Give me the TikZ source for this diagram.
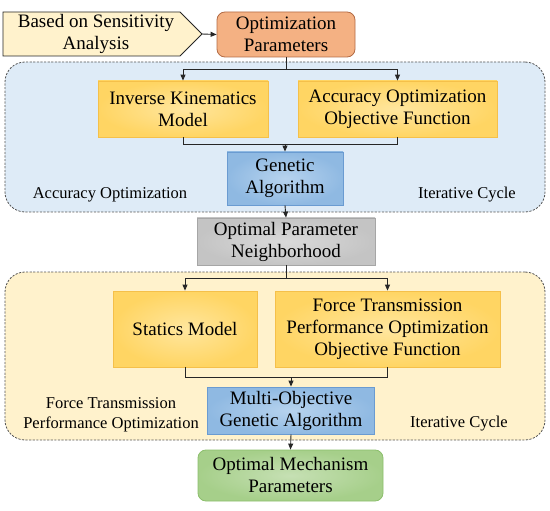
\documentclass[tikz,border=0pt]{standalone}
\usepackage{fontspec}
\setmainfont{Liberation Serif}
\usetikzlibrary{arrows.meta,calc}
\definecolor{linecol}{HTML}{262626}
\definecolor{regborder}{HTML}{555555}
\definecolor{bluereg}{HTML}{DEEBF7}
\definecolor{creamreg}{HTML}{FFF2CC}
\definecolor{yelin}{HTML}{FFE69E}
\definecolor{yelout}{HTML}{FFD563}
\definecolor{yelborder}{HTML}{F5C04A}
\definecolor{bluein}{HTML}{B7D3EE}
\definecolor{blueout}{HTML}{8FB9E2}
\definecolor{blueborder}{HTML}{6A9BD1}
\definecolor{grayin}{HTML}{DADADA}
\definecolor{grayout}{HTML}{C4C4C4}
\definecolor{grayborder}{HTML}{A6A6A6}
\definecolor{greenin}{HTML}{C6E0B4}
\definecolor{greenout}{HTML}{A6CF8A}
\definecolor{greenborder}{HTML}{8CBF6C}
\definecolor{orangefill}{HTML}{F4B183}
\definecolor{orangeborder}{HTML}{B36B45}
\begin{document}
\begin{tikzpicture}[x=1pt,y=-1pt,
  every node/.style={font=\fontsize{19}{22}\selectfont, align=center, inner sep=0pt, text=black},
  region/.style={draw=regborder, dash pattern=on 2.2pt off 1.4pt, line width=0.8pt, rounded corners=20pt},
  lbl/.style={font=\fontsize{16.5}{20}\selectfont},
  yelbox/.style={draw=yelborder, line width=0.8pt, inner color=yelin, outer color=yelout},
  bluebox/.style={draw=blueborder, line width=0.8pt, inner color=bluein, outer color=blueout},
  graybox/.style={draw=grayborder, line width=0.8pt, inner color=grayin, outer color=grayout},
  greenbox/.style={draw=greenborder, line width=0.8pt, inner color=greenin, outer color=greenout, rounded corners=8pt},
  orangebox/.style={draw=orangeborder, line width=0.8pt, fill=orangefill, rounded corners=8pt},
  conn/.style={draw=linecol, line width=0.9pt},
  arr/.style={conn, -{Triangle[length=6pt,width=5pt]}}
]
\useasboundingbox (0,0) rectangle (550,511);

% regions
\node[region, fill=bluereg, minimum width=540pt, minimum height=150pt] (topreg) at (275,137) {};
\node[region, fill=creamreg, minimum width=540pt, minimum height=168pt] (botreg) at (275,356) {};

% pentagon
\draw[draw=linecol, line width=0.8pt, fill=creamreg] (3,12) -- (180,12) -- (202,34) -- (180,56) -- (3,56) -- cycle;
\node (bsa) at (96,34) {Based on Sensitivity\\Analysis};
\coordinate (bsatip) at (202,34);

% boxes
\node[orangebox, minimum width=138pt, minimum height=45pt] (op) at (286,34.5) {Optimization\\Parameters};
\node[yelbox, minimum width=170pt, minimum height=56pt] (ik) at (183,109) {Inverse Kinematics\\Model};
\node[yelbox, minimum width=199pt, minimum height=56pt] (ao) at (397.5,109) {Accuracy Optimization\\Objective Function};
\node[bluebox, minimum width=116pt, minimum height=53pt] (ga) at (285,178.5) {Genetic\\Algorithm};
\node[lbl] (lacc) at (110,195) {Accuracy Optimization};
\node[lbl] (lit1) at (467,195) {Iterative Cycle};

\node[graybox, minimum width=178pt, minimum height=47pt] (onp) at (286,241.5) {Optimal Parameter\\Neighborhood};

\node[yelbox, minimum width=144pt, minimum height=76pt] (sm) at (185,329) {Statics Model};
\node[yelbox, minimum width=225pt, minimum height=76pt] (ft) at (387.5,329) {Force Transmission\\Performance Optimization\\Objective Function};
\node[bluebox, minimum width=167pt, minimum height=47pt] (moga) at (291,410.5) {Multi-Objective\\Genetic Algorithm};
\node[lbl] (lft) at (111,415) {Force Transmission\\Performance Optimization};
\node[lbl] (lit2) at (459,424) {Iterative Cycle};

\node[greenbox, minimum width=185pt, minimum height=51pt] (om) at (290.5,475.5) {Optimal Mechanism\\Parameters};

% connectors
\draw[arr] (bsatip) -- (op.west);

\coordinate (s1) at (286,69);
\draw[conn] (op.south) -- (s1);
\draw[arr] (s1) -| (ik.north);
\draw[arr] (s1) -| (ao.north);
\coordinate (m1) at (285,144);
\draw[conn] (ik.south) |- (m1);
\draw[conn] (ao.south) |- (m1);
\draw[arr] (m1) -- (ga.north);

\draw[arr] (ga.south) -- (onp.north);

\coordinate (s2) at (286,278);
\draw[conn] (onp.south) -- (s2);
\draw[arr] (s2) -| (sm.north);
\draw[arr] (s2) -| (ft.north);
\coordinate (m2) at (291,377);
\draw[conn] (sm.south) |- (m2);
\draw[conn] (ft.south) |- (m2);
\draw[arr] (m2) -- (moga.north);

\draw[arr] (moga.south) -- (om.north);
\end{tikzpicture}
\end{document}
